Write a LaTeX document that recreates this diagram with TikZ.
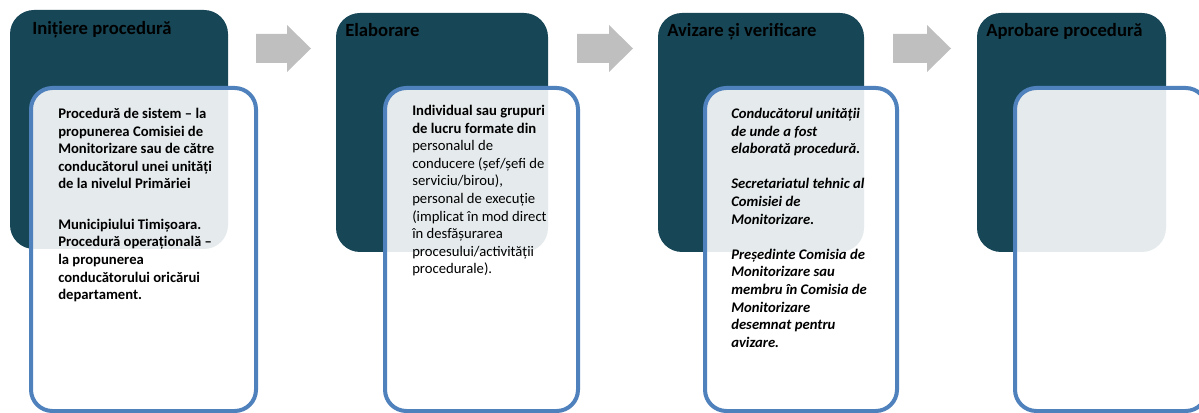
\documentclass[tikz,border=0pt]{standalone}
\usepackage{fontspec}
\setmainfont{Carlito}
\definecolor{PhaseTeal}{HTML}{174757}
\definecolor{CardBlue}{HTML}{4F81BD}
\definecolor{ArrowGray}{HTML}{BFBFBF}

\begin{document}
\begin{tikzpicture}[x=0.75pt, y=-0.75pt,
    title/.style={anchor=base west, inner sep=0pt, font=\fontsize{14}{16}\selectfont\bfseries},
    tasktext/.style={anchor=north west, inner sep=0pt, align=left, font=\fontsize{11}{13.2}\selectfont}]
        \useasboundingbox (0,0) rectangle (1199,413);
        \clip (0,0) rectangle (1199,413);
        % block arrows between the phases
        \foreach \a/\h/\t in {256/287/311, 577/609/633, 893/927/951} {
            \fill[ArrowGray] (\a,34) -- (\h,34) -- (\h,25) -- (\t,48.5) -- (\h,72) -- (\h,63) -- (\a,63) -- cycle;
        }
        % phase boxes with the cards over them
        \foreach \x/\X/\y/\Y/\c/\C [count=\i from 1] in {10/228/10/249/31/256, 336/548/13/252/385/578, 658/864/13/252/705/897, 977/1166/13/252/1015/1207} {
            \fill[PhaseTeal, rounded corners=18pt] (\x,\y) rectangle (\X,\Y);
            \draw[CardBlue, line width=3pt, fill=white, fill opacity=0.89, rounded corners=16pt] (\c,88) rectangle (\C,411);
        }
        \node[title] (title1) at (32,35) {Inițiere procedură};
        \node[title] (title2) at (345,37) {Elaborare};
        \node[title] (title3) at (667,37) {Avizare și verificare};
        \node[title] (title4) at (986,37) {Aprobare procedură};

        \node[tasktext, font=\fontsize{11}{13.2}\selectfont\bfseries] (task1) at (58,108) {Procedură de sistem – la\\propunerea Comisiei de\\Monitorizare sau de către\\conducătorul unei unități\\de la nivelul Primăriei\\[17pt]Municipiului Timișoara.\\Procedură operațională –\\la propunerea\\conducătorului oricărui\\departament.};
        \node[tasktext] (task2) at (412,105) {\textbf{Individual sau grupuri}\\\textbf{de lucru formate din}\\personalul de\\conducere (șef/șefi de\\serviciu/birou),\\personal de execuție\\(implicat în mod direct\\în desfășurarea\\procesului/activității\\procedurale).};
        \node[tasktext, font=\fontsize{11}{13.2}\selectfont\bfseries\itshape] (task3) at (731,108) {Conducătorul unității\\de unde a fost\\elaborată procedură.\\[13.2pt]Secretariatul tehnic al\\Comisiei de\\Monitorizare.\\[13.2pt]Președinte Comisia de\\Monitorizare sau\\membru în Comisia de\\Monitorizare\\desemnat pentru\\avizare.};
    \end{tikzpicture}
\end{document}
